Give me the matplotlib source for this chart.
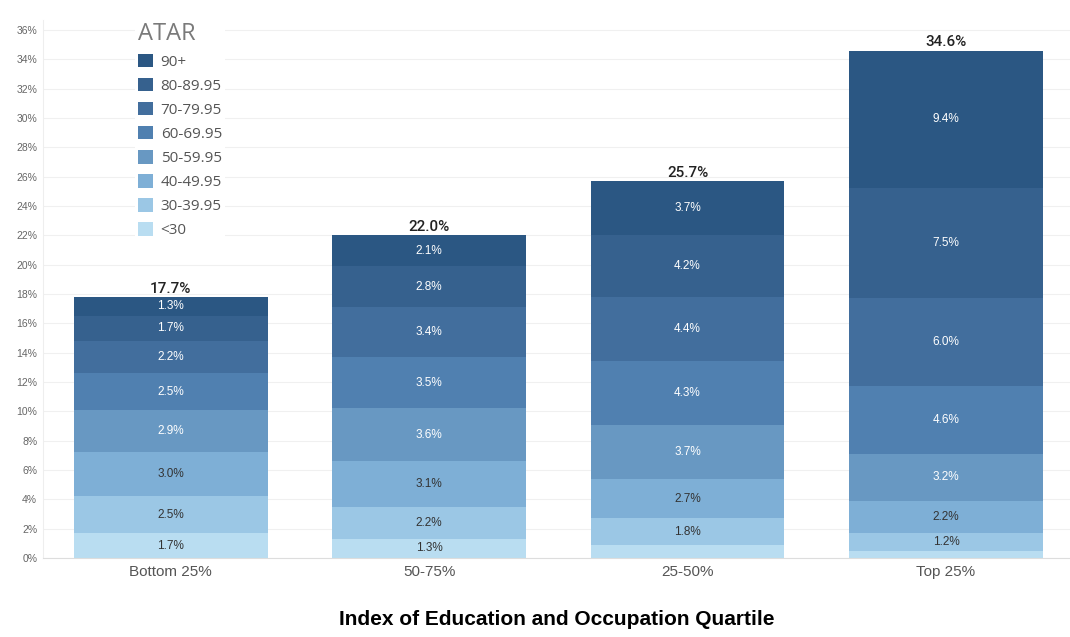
import matplotlib.pyplot as plt
from matplotlib.patches import Patch
import numpy as np

categories = ["Bottom 25%", "50-75%", "25-50%", "Top 25%"]
bands = ["<30", "30-39.95", "40-49.95", "50-59.95", "60-69.95", "70-79.95", "80-89.95", "90+"]
# values per band (bottom to top), one entry per category
v_lt30 = [1.7, 1.3, 0.9, 0.5]
v_30 = [2.5, 2.2, 1.8, 1.2]
v_40 = [3.0, 3.1, 2.7, 2.2]
v_50 = [2.9, 3.6, 3.7, 3.2]
v_60 = [2.5, 3.5, 4.3, 4.6]
v_70 = [2.2, 3.4, 4.4, 6.0]
v_80 = [1.7, 2.8, 4.2, 7.5]
v_90 = [1.3, 2.1, 3.7, 9.4]
totals = [17.7, 22.0, 25.7, 34.6]
series = [v_lt30, v_30, v_40, v_50, v_60, v_70, v_80, v_90]
colors = ["#b9ddf1", "#9bc7e5", "#7eafd6", "#6898c2", "#5080b0", "#426e9d", "#36618e", "#2b5783"]
text_colors = ["#333333", "#333333", "#333333", "white", "white", "white", "white", "white"]

fig = plt.figure(figsize=(10.70, 6.37), dpi=100)
ax = fig.add_axes([0.040, 0.124, 0.96, 0.845])

x = np.arange(len(categories))
bottom = np.zeros(len(categories))
for vals, c, tc in zip(series, colors, text_colors):
    vals = np.array(vals)
    ax.bar(x, vals, bottom=bottom, width=0.75, color=c, edgecolor="none", zorder=2)
    for xi, v, b in zip(x, vals, bottom):
        if v >= 1.0:
            ax.text(xi, b + v / 2, f"{v:.1f}%", ha="center", va="center",
                    fontsize=8.5, color=tc, family="Liberation Sans", zorder=3)
    bottom = bottom + vals

for xi, t, b in zip(x, totals, bottom):
    ax.annotate(f"{t:.1f}%", (xi, b), xytext=(0, 1), textcoords="offset points",
                ha="center", va="bottom", fontsize=11, color="#222222",
                family="Roboto", fontweight="medium", zorder=3)

ax.set_xlim(-0.495, 3.48)
ax.set_ylim(0, 36.7)
ax.set_yticks(np.arange(0, 37, 2))
ax.set_yticklabels([f"{t}%" for t in range(0, 37, 2)], fontsize=7.5, color="#666666",
                   family="Liberation Sans")
ax.set_xticks(x)
ax.set_xticklabels(categories, fontsize=11, color="#555555", family="Liberation Sans")
ax.tick_params(axis="both", length=0)
ax.tick_params(axis="y", pad=4)
ax.tick_params(axis="x", pad=5)
ax.grid(axis="y", color="#f0f0f0", linewidth=0.8, zorder=0)
ax.set_axisbelow(True)
for s in ["top", "right"]:
    ax.spines[s].set_visible(False)
ax.spines["left"].set_color("#eeeeee")
ax.spines["bottom"].set_color("#dddddd")

ax.set_xlabel("Index of Education and Occupation Quartile", fontsize=15,
              fontweight="bold", family="Liberation Sans", color="black", labelpad=22)

handles = [Patch(facecolor=c, edgecolor="none") for c in colors][::-1]
leg = ax.legend(handles, bands[::-1], title="ATAR", loc="upper left",
                bbox_to_anchor=(0.082, 1.016), frameon=True,
                handlelength=1.0, handleheight=1.0,
                labelspacing=0.52, handletextpad=0.5, borderpad=0.2,
                prop={"family": "Open Sans", "size": 11})
leg.get_frame().set_facecolor("white")
leg.get_frame().set_edgecolor("none")
leg.get_frame().set_alpha(1)
leg._legend_box.align = "left"
leg.get_title().set_color("#7a7a7a")
leg.get_title().set_family("Open Sans")
leg.get_title().set_fontsize(17)
for t in leg.get_texts():
    t.set_color("#555555")

fig.savefig("out.png", dpi=100)
